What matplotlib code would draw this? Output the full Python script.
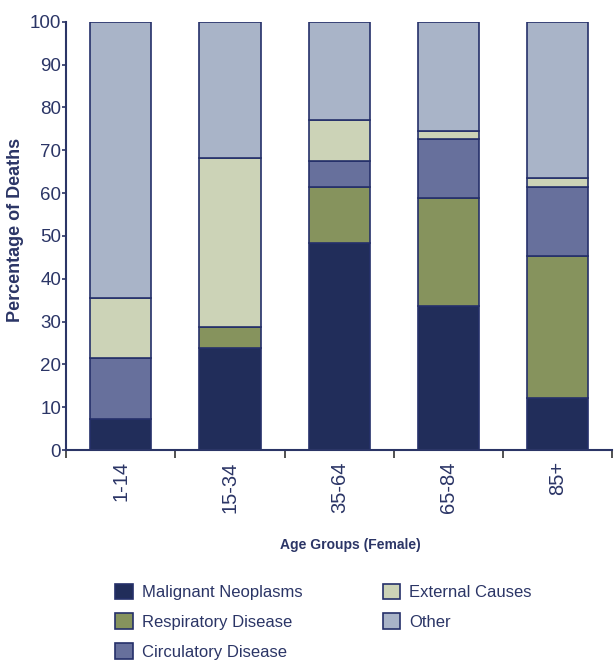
import matplotlib
matplotlib.use("Agg")
import matplotlib.pyplot as plt
import numpy as np
from matplotlib.patches import Patch

plt.rcParams['font.family'] = ['Liberation Sans', 'DejaVu Sans']

# data (percent of deaths)
age_groups = ['1-14', '15-34', '35-64', '65-84', '85+']
causes = ['Malignant Neoplasms', 'Respiratory Disease', 'Circulatory Disease',
          'External Causes', 'Other']
malignant = [7.2, 23.8, 48.4, 33.6, 12.1]
respiratory = [0.0, 5.0, 13.1, 25.3, 33.2]
circulatory = [14.3, 0.0, 6.0, 13.7, 16.1]
external = [14.0, 39.4, 9.6, 1.9, 2.1]
other = [64.5, 31.8, 22.9, 25.5, 36.5]

colors = ['#212d5a', '#86935d', '#67709c', '#ccd3b7', '#a9b4c8']
navy = '#2b3566'
edge = '#25306a'

series = [malignant, respiratory, circulatory, external, other]

fig = plt.figure(figsize=(6.14, 6.61), dpi=100)
ax = fig.add_axes([0.1075, 0.319, 0.89, 0.648])

x = np.arange(len(age_groups))
bottom = np.zeros(len(age_groups))
for vals, c in zip(series, colors):
    vals = np.array(vals)
    ax.bar(x, vals, width=0.56, bottom=bottom, color=c, edgecolor=edge, linewidth=1.2)
    bottom = bottom + vals

ax.set_xlim(-0.5, 4.5)
ax.set_ylim(0, 100)
ax.set_yticks(np.arange(0, 101, 10))
ax.set_xticks(x)
ax.set_xticklabels(age_groups, rotation=90, fontsize=14.5, color=navy)
ax.set_xticks(np.arange(-0.5, 4.6, 1), minor=True)
ax.tick_params(axis='x', which='major', length=0, pad=8)
ax.tick_params(axis='x', which='minor', length=6, width=1.2, color='#333333', direction='out')
ax.tick_params(axis='y', length=3, width=1.2, color=navy, labelcolor=navy, pad=0.5)
for lab in ax.get_yticklabels():
    lab.set_family(['Liberation Sans Narrow', 'Liberation Sans'])
    lab.set_fontsize(13.5)

for s in ['top', 'right']:
    ax.spines[s].set_visible(False)
for s in ['left', 'bottom']:
    ax.spines[s].set_color(navy)
    ax.spines[s].set_linewidth(1.5)

ax.set_ylabel('Percentage of Deaths', fontsize=13, fontweight='bold', color=navy)
ax.yaxis.set_label_coords(-0.077, 0.515)
fig.text(0.57, 0.175, 'Age Groups (Female)', fontsize=10, fontweight='bold', color=navy,
         ha='center', va='center')

handles = [Patch(facecolor=c, edgecolor=edge, linewidth=1.2) for c in colors]
fig.legend(handles, causes, loc='upper left', bbox_to_anchor=(0.188, 0.117), ncol=2,
           frameon=False, fontsize=12, labelcolor=navy, handlelength=1.05, handleheight=1.05,
           handletextpad=0.55, labelspacing=0.8, columnspacing=4.8, borderpad=0, borderaxespad=0)

fig.savefig('out.png', dpi=100)
